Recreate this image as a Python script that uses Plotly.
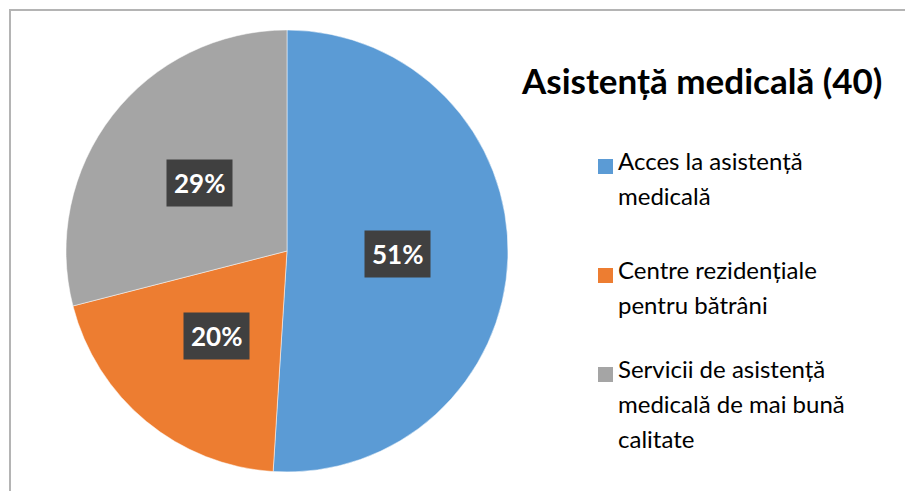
import math
import textwrap
import plotly.graph_objects as go

# Survey topic: medical assistance (40 answers)
title_text = "Asistență medicală (40)"
categories = [
    "Acces la asistență medicală",
    "Centre rezidențiale pentru bătrâni",
    "Servicii de asistență medicală de mai bună calitate",
]
shares = [51, 20, 29]
colors = ["#5B9BD5", "#ED7D31", "#A5A5A5"]

W, H = 905, 491
FONT = "Lato, 'Open Sans', sans-serif"

# pie placement (pixels)
cx, cy, r = 287, 251, 221
dom_x = [(cx - r) / W, (cx + r) / W]
dom_y = [1 - (cy + r) / H, 1 - (cy - r) / H]

fig = go.Figure()
fig.add_trace(go.Pie(
    labels=categories,
    values=shares,
    sort=False,
    direction="clockwise",
    rotation=0,
    marker=dict(colors=colors, line=dict(color="white", width=0.5)),
    textinfo="none",
    hoverinfo="label+percent",
    showlegend=False,
    domain=dict(x=dom_x, y=dom_y),
))

annotations = []

# percentage labels in dark boxes, placed at half radius along each slice's mid-angle
total = sum(shares)
start = 0.0
for v in shares:
    frac = v / total
    mid = (start + frac / 2) * 2 * math.pi
    start += frac
    px = cx + 0.5 * r * math.sin(mid)
    py = cy - 0.5 * r * math.cos(mid)
    annotations.append(dict(
        x=px / W, y=1 - py / H, xref="paper", yref="paper",
        text=f"<b>{round(frac * 100)}%</b>", showarrow=False,
        font=dict(family=FONT, size=26, color="white"),
        bgcolor="#404040", borderpad=7, xanchor="center", yanchor="middle",
    ))

# chart title
annotations.append(dict(
    x=701 / W, y=1 - 80 / H, xref="paper", yref="paper",
    text=f"<b>{title_text}</b>", showarrow=False,
    font=dict(family=FONT, size=35, color="black"),
    xanchor="center", yanchor="middle",
))

# legend drawn as squares + wrapped text lines
shapes = []
legend_top = [160, 269, 368]
line_gap = 35
for cat, col, y0 in zip(categories, colors, legend_top):
    lines = textwrap.wrap(cat, width=21)
    shapes.append(dict(
        type="rect", xref="paper", yref="paper",
        x0=598 / W, x1=613 / W, y0=1 - (y0 + 14) / H, y1=1 - (y0 - 1) / H,
        fillcolor=col, line=dict(width=0),
    ))
    for i, ln in enumerate(lines):
        annotations.append(dict(
            x=616 / W, y=1 - (y0 + i * line_gap) / H, xref="paper", yref="paper",
            text=ln, showarrow=False,
            font=dict(family=FONT, size=24, color="black"),
            xanchor="left", yanchor="middle",
        ))

# chart frame (top and left edges)
frame = dict(color="#B4B4B4", width=2)
shapes.append(dict(type="line", xref="paper", yref="paper",
                   x0=9 / W, x1=1, y0=1 - 10 / H, y1=1 - 10 / H, line=frame))
shapes.append(dict(type="line", xref="paper", yref="paper",
                   x0=10 / W, x1=10 / W, y0=0, y1=1 - 9 / H, line=frame))

fig.update_layout(
    width=W, height=H,
    margin=dict(l=0, r=0, t=0, b=0),
    paper_bgcolor="white",
    plot_bgcolor="white",
    annotations=annotations,
    shapes=shapes,
    font=dict(family=FONT),
)

fig.write_html("out.html")
